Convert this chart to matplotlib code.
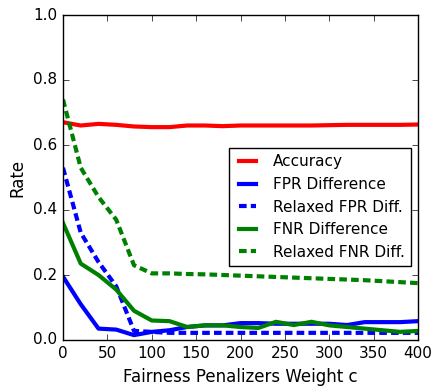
import matplotlib
matplotlib.use('Agg')
import matplotlib.pyplot as plt

# penalizer weights
c = [0, 20, 40, 60, 80, 100, 120, 140, 160, 180, 200,
     220, 240, 260, 280, 300, 320, 340, 360, 380, 400]

accuracy = [0.670, 0.660, 0.665, 0.662, 0.657, 0.655, 0.655, 0.660, 0.660, 0.658, 0.660,
            0.660, 0.660, 0.660, 0.660, 0.661, 0.662, 0.662, 0.662, 0.662, 0.663]
fpr_diff = [0.195, 0.110, 0.035, 0.032, 0.015, 0.025, 0.030, 0.040, 0.045, 0.045, 0.052,
            0.052, 0.050, 0.050, 0.050, 0.050, 0.046, 0.055, 0.055, 0.055, 0.058]
relaxed_fpr = [0.530, 0.330, 0.240, 0.165, 0.028, 0.025, 0.022, 0.022, 0.022, 0.022, 0.022,
               0.022, 0.022, 0.022, 0.022, 0.022, 0.022, 0.022, 0.022, 0.022, 0.022]
fnr_diff = [0.360, 0.235, 0.200, 0.155, 0.090, 0.060, 0.058, 0.040, 0.045, 0.045, 0.040,
            0.037, 0.056, 0.046, 0.056, 0.045, 0.040, 0.035, 0.030, 0.025, 0.028]
relaxed_fnr = [0.740, 0.530, 0.440, 0.370, 0.230, 0.205, 0.205, 0.203, 0.202, 0.200, 0.198,
               0.196, 0.194, 0.192, 0.190, 0.188, 0.186, 0.184, 0.181, 0.178, 0.175]

plt.style.use('classic')
plt.rcParams['font.size'] = 11

fig = plt.figure(figsize=(4.37, 3.88), dpi=100, facecolor='white')
ax = fig.add_axes([63 / 437, 48 / 388, 355 / 437, 325 / 388])

dash = (5.5, 3)
ax.plot(c, accuracy, color='r', lw=3, label='Accuracy')
ax.plot(c, fpr_diff, color='b', lw=3, label='FPR Difference')
ax.plot(c, relaxed_fpr, color='b', lw=3, ls='--', dashes=dash, label='Relaxed FPR Diff.')
ax.plot(c, fnr_diff, color='g', lw=3, label='FNR Difference')
ax.plot(c, relaxed_fnr, color='g', lw=3, ls='--', dashes=dash, label='Relaxed FNR Diff.')

ax.set_xlim(0, 400)
ax.set_ylim(0, 1.0)
ax.set_xticks(range(0, 401, 50))
ax.set_yticks([0.0, 0.2, 0.4, 0.6, 0.8, 1.0])
ax.set_xlabel('Fairness Penalizers Weight c', fontsize=12)
ax.set_ylabel('Rate', fontsize=12)

ax.legend(loc='lower right', bbox_to_anchor=(0.98, 0.228), borderaxespad=0,
          fontsize=11, handlelength=1.7, numpoints=2, frameon=True, fancybox=False)

fig.savefig('out.png', dpi=100, facecolor='white')
